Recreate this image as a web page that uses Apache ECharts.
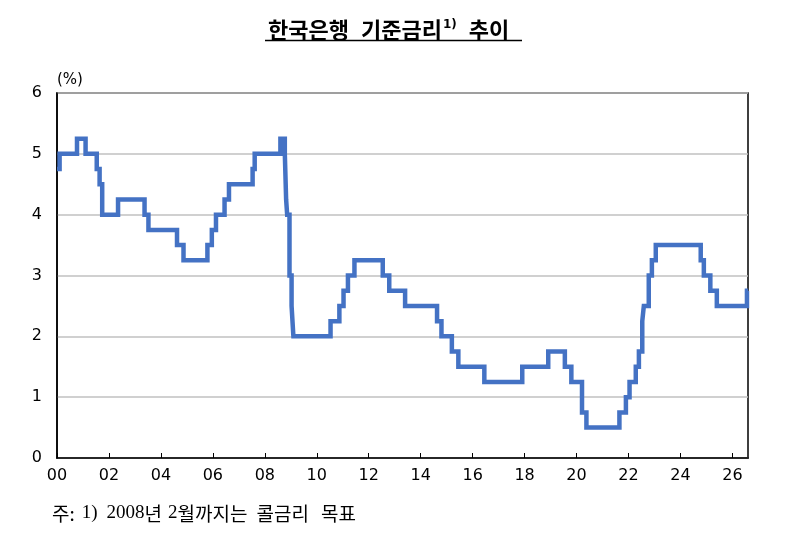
<!DOCTYPE html>
<html>
<head>
<meta charset="utf-8">
<style>
  html, body { margin: 0; padding: 0; background: #fff; }
  #chart { width: 801px; height: 537px; }
</style>
<script src="https://cdn.jsdelivr.net/npm/echarts@6/dist/echarts.min.js"></script>
</head>
<body>
<div id="chart"></div>
<script>
// decimal year (2000 = 0) at which the rate changed, and the new rate (%)
var changeDates = [
  0.0, 0.1, 0.77, 1.1, 1.53, 1.64, 1.74, 2.35, 3.37, 3.52,
  4.62, 4.87, 5.79, 5.96, 6.12, 6.45, 6.62, 7.53, 7.61,
  8.6, 8.77, 8.82, 8.86, 8.95, 9.03, 9.1,
  10.53, 10.87, 11.03, 11.2, 11.45, 12.54, 12.79, 13.4,
  14.63, 14.8, 15.2, 15.45, 16.45, 17.91, 18.91, 19.55, 19.8,
  20.21, 20.38, 21.65, 21.9, 22.04, 22.28, 22.4, 22.53, 22.59,
  22.78, 22.9, 23.05, 24.78, 24.9, 25.15, 25.4, 26.56, 26.6
];
var rates = [
  4.75, 5.0, 5.25, 5.0, 4.75, 4.5, 4.0, 4.25, 4.0, 3.75,
  3.5, 3.25, 3.5, 3.75, 4.0, 4.25, 4.5, 4.75, 5.0,
  5.25, 5.0, 4.25, 4.0, 3.0, 2.5, 2.0,
  2.25, 2.5, 2.75, 3.0, 3.25, 3.0, 2.75, 2.5,
  2.25, 2.0, 1.75, 1.5, 1.25, 1.5, 1.75, 1.5, 1.25,
  0.75, 0.5, 0.75, 1.0, 1.25, 1.5, 1.75, 2.25, 2.5,
  3.0, 3.25, 3.5, 3.25, 3.0, 2.75, 2.5, 2.75, 2.75
];
var xTicks = ['00', '02', '04', '06', '08', '10', '12', '14', '16', '18', '20', '22', '24', '26'];

var seriesData = changeDates.map(function (d, i) { return [d, rates[i]]; });

var sans = "'DejaVu Sans', sans-serif";
var kr = "'Noto Sans CJK KR', sans-serif";
var serif = "'Liberation Serif', serif";
var chart = echarts.init(document.getElementById('chart'));

var option = {
  animation: false,
  backgroundColor: '#fff',
  title: [
    {
      text: '{t|한국은행}{g|기준금리}{s|1)}{g|추이}',
      left: 263,
      top: 14,
      textStyle: {
        rich: {
          t: { fontFamily: kr, fontSize: 22, fontWeight: 'bold', color: '#000' },
          g: { fontFamily: kr, fontSize: 22, fontWeight: 'bold', color: '#000', padding: [0, 0, 0, 12] },
          s: { fontFamily: sans, fontSize: 12, fontWeight: 'bold', color: '#000', verticalAlign: 'top', padding: [0, 0, 10, 1] }
        }
      }
    },
    {
      text: '{k|주:}{a|1)}{b|2008}{k|년}{c|2}{k|월까지는}{d|콜금리}{e|목표}',
      left: 47,
      top: 499,
      textStyle: {
        fontWeight: 'normal',
        rich: {
          k: { fontFamily: kr, fontSize: 19, fontWeight: 'normal', color: '#000' },
          a: { fontFamily: serif, fontSize: 19, fontWeight: 'normal', color: '#000', padding: [0, 0, 0, 7] },
          b: { fontFamily: serif, fontSize: 19, fontWeight: 'normal', color: '#000', padding: [0, 0, 0, 9] },
          c: { fontFamily: serif, fontSize: 19, fontWeight: 'normal', color: '#000', padding: [0, 0, 0, 6] },
          d: { fontFamily: kr, fontSize: 19, fontWeight: 'normal', color: '#000', padding: [0, 0, 0, 9] },
          e: { fontFamily: kr, fontSize: 19, fontWeight: 'normal', color: '#000', padding: [0, 0, 0, 12] }
        }
      }
    }
  ],
  graphic: [
    { type: 'line', shape: { x1: 265, y1: 40.5, x2: 522, y2: 40.5 }, style: { stroke: '#000', lineWidth: 1.3 } }
  ],
  grid: { left: 57, right: 53, top: 93, bottom: 79, show: true, borderColor: '#000', borderWidth: 1.5, containLabel: false },
  xAxis: {
    type: 'value',
    min: 0,
    max: 26.6,
    interval: 2,
    axisLine: { show: true, lineStyle: { color: '#000', width: 1.5 } },
    axisTick: { show: true, inside: true, length: 5, lineStyle: { color: '#000' } },
    splitLine: { show: false },
    axisLabel: {
      fontFamily: sans, fontSize: 16, color: '#000', margin: 10, showMaxLabel: false,
      formatter: function (v) { return xTicks[Math.round(v / 2)] || ''; }
    }
  },
  yAxis: {
    type: 'value',
    min: 0,
    max: 6,
    interval: 1,
    name: '(%)',
    nameLocation: 'end',
    nameGap: 5,
    nameTextStyle: { fontFamily: sans, fontSize: 15, color: '#000', align: 'left', padding: [0, 0, 0, 0] },
    axisLine: { show: true, lineStyle: { color: '#000', width: 1.5 } },
    axisTick: { show: false },
    splitLine: { show: true, lineStyle: { color: '#c0c0c0', width: 1.5 } },
    axisLabel: { fontFamily: sans, fontSize: 16, color: '#000', margin: 15 }
  },
  series: [
    {
      type: 'line',
      step: 'end',
      data: seriesData,
      showSymbol: false,
      clip: true,
      lineStyle: { color: '#4472C4', width: 4.5, join: 'miter' }
    }
  ]
};

chart.setOption(option);
</script>
</body>
</html>
